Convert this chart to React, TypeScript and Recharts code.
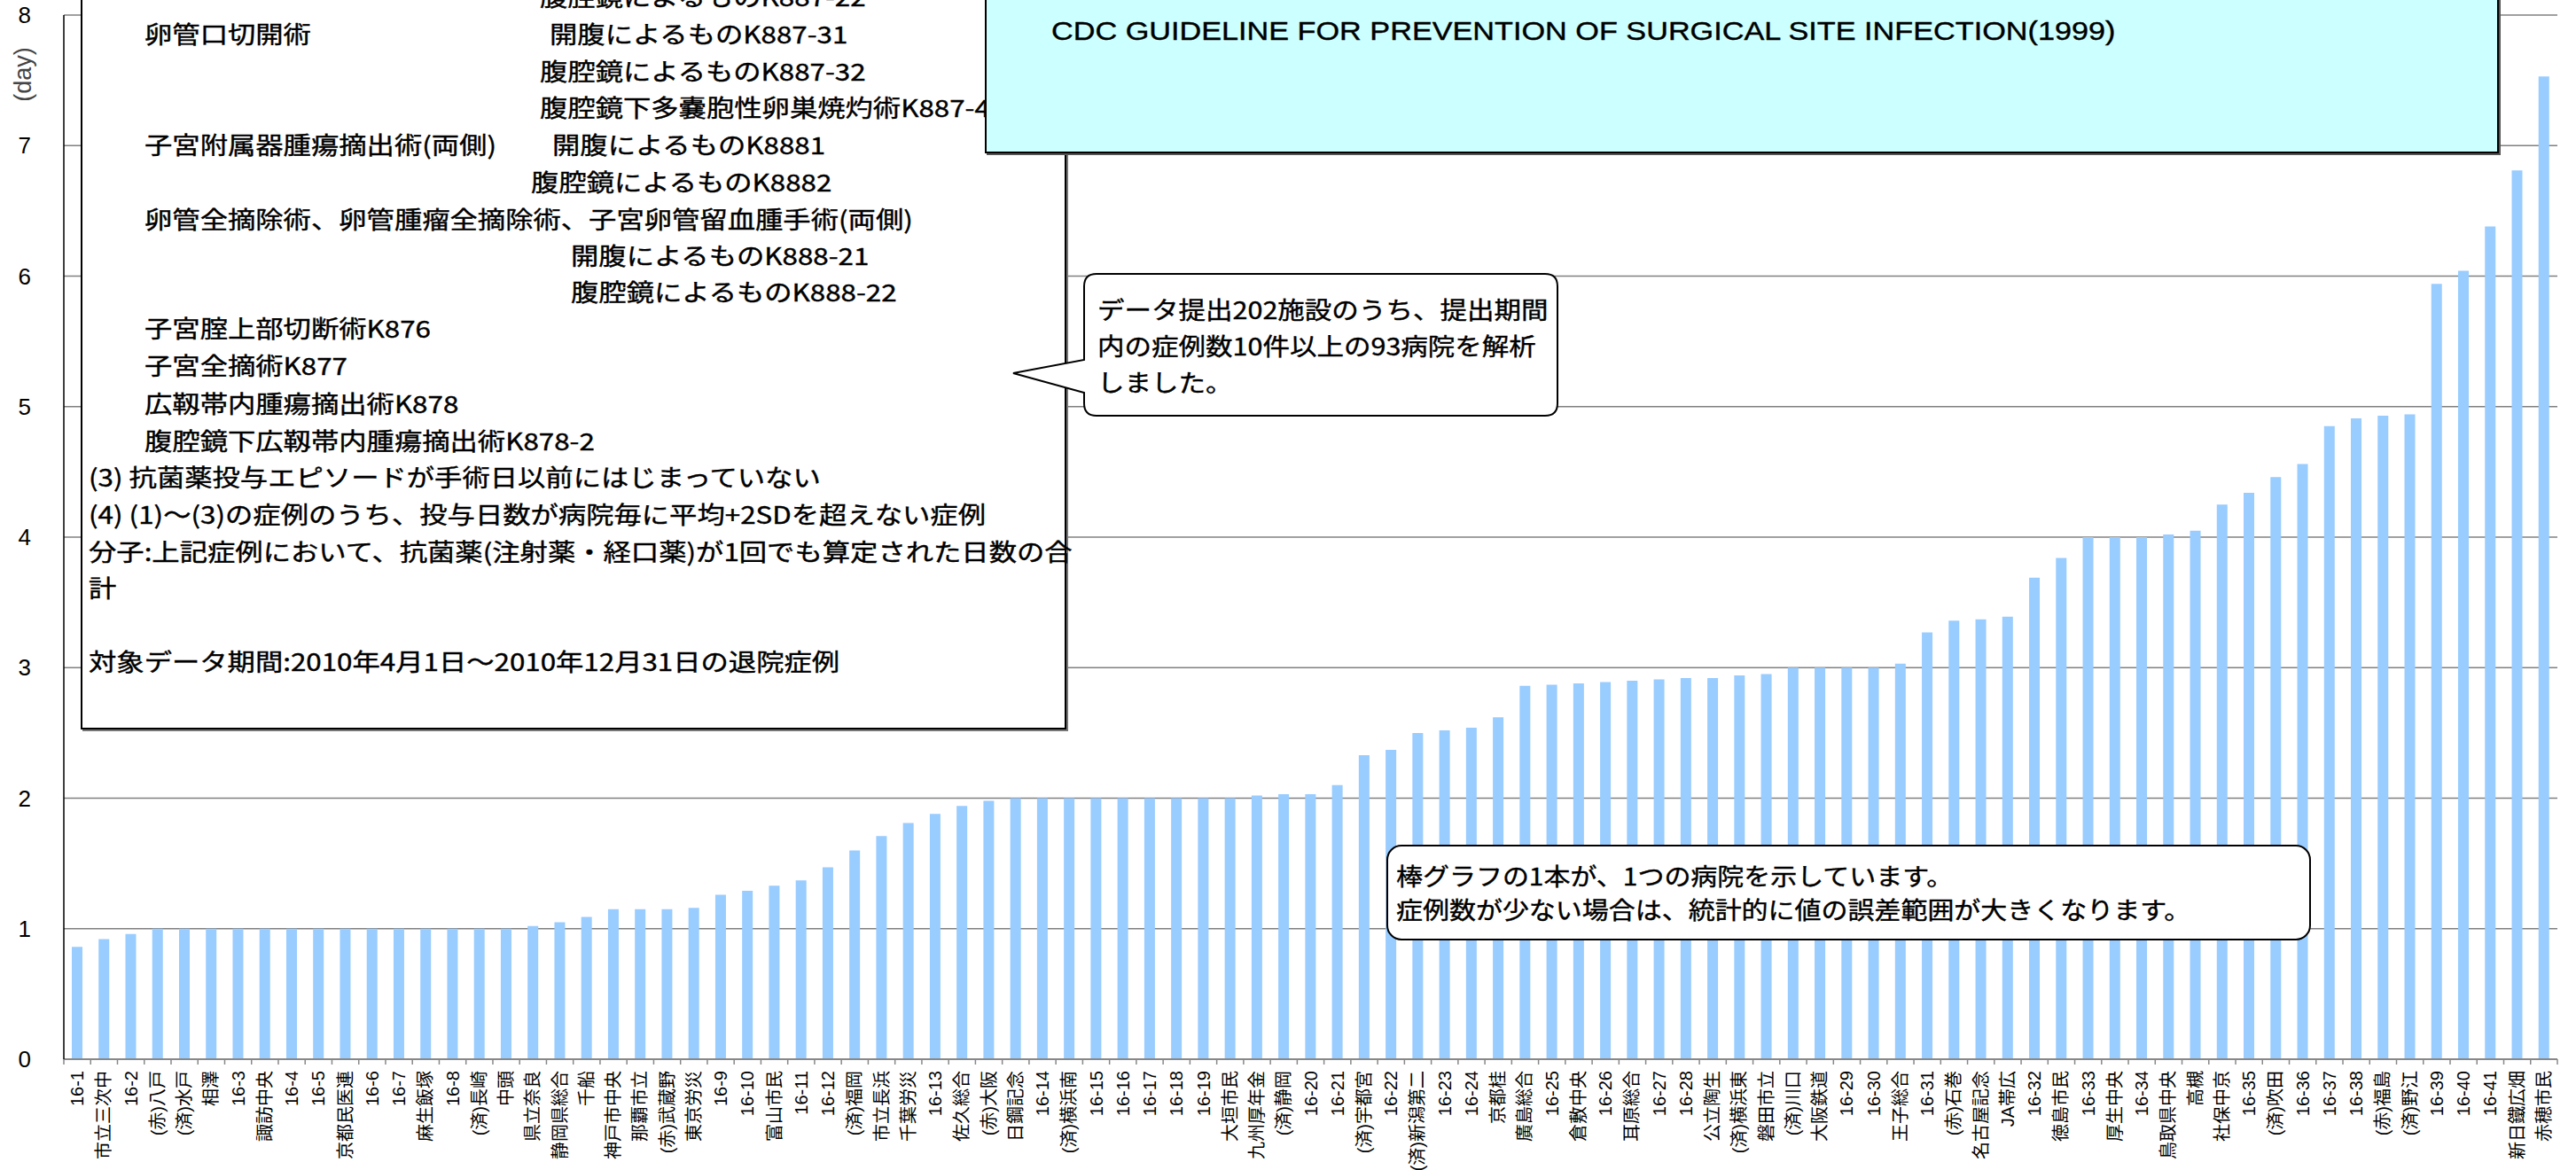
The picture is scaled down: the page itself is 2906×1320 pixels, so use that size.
import { BarChart, Bar, XAxis, YAxis, CartesianGrid } from 'recharts';

// hospitals, sorted by value (left to right)
const hospitals = [
  '16-1', '市立三次中', '16-2', '(赤)八戸', '(済)水戸', '相澤', '16-3', '諏訪中央', '16-4', '16-5',
  '京都民医連', '16-6', '16-7', '麻生飯塚', '16-8', '(済)長崎', '中頭', '県立奈良', '静岡県総合', '千船',
  '神戸市中央', '那覇市立', '(赤)武蔵野', '東京労災', '16-9', '16-10', '富山市民', '16-11', '16-12', '(済)福岡',
  '市立長浜', '千葉労災', '16-13', '佐久総合', '(赤)大阪', '日鋼記念', '16-14', '(済)横浜南', '16-15', '16-16',
  '16-17', '16-18', '16-19', '大垣市民', '九州厚年金', '(済)静岡', '16-20', '16-21', '(済)宇都宮', '16-22',
  '(済)新潟第二', '16-23', '16-24', '京都桂', '廣島総合', '16-25', '倉敷中央', '16-26', '耳原総合', '16-27',
  '16-28', '公立陶生', '(済)横浜東', '磐田市立', '(済)川口', '大阪鉄道', '16-29', '16-30', '王子総合', '16-31',
  '(赤)石巻', '名古屋記念', 'JA帯広', '16-32', '徳島市民', '16-33', '厚生中央', '16-34', '鳥取県中央', '高槻',
  '社保中京', '16-35', '(済)吹田', '16-36', '16-37', '16-38', '(赤)福島', '(済)野江', '16-39', '16-40',
  '16-41', '新日鐵広畑', '赤穂市民',
];

const days = [
  0.86, 0.92, 0.96, 1.0, 1.0, 1.0, 1.0, 1.0, 1.0, 1.0,
  1.0, 1.0, 1.0, 1.0, 1.0, 1.0, 1.0, 1.02, 1.05, 1.09,
  1.15, 1.15, 1.15, 1.16, 1.26, 1.29, 1.33, 1.37, 1.47, 1.6,
  1.71, 1.81, 1.88, 1.94, 1.98, 2.0, 2.0, 2.0, 2.0, 2.0,
  2.0, 2.0, 2.0, 2.0, 2.02, 2.03, 2.03, 2.1, 2.33, 2.37,
  2.5, 2.52, 2.54, 2.62, 2.86, 2.87, 2.88, 2.89, 2.9, 2.91,
  2.92, 2.92, 2.94, 2.95, 3.0, 3.0, 3.0, 3.0, 3.03, 3.27,
  3.36, 3.37, 3.39, 3.69, 3.84, 4.0, 4.0, 4.0, 4.02, 4.05,
  4.25, 4.34, 4.46, 4.56, 4.85, 4.91, 4.93, 4.94, 5.94, 6.04,
  6.38, 6.81, 7.53,
];

const yTicks = [0, 1, 2, 3, 4, 5, 6, 7, 8];

const data = hospitals.map((name, i) => ({ name, days: days[i] }));

const W = 2906;
const H = 1320;
const PLOT_LEFT = 72;
const PLOT_RIGHT = 2885;
const PLOT_TOP = 17;
const PLOT_BOTTOM = 1195;
const BAND = (PLOT_RIGHT - PLOT_LEFT) / hospitals.length;

const JP = '"Noto Sans CJK JP", sans-serif';

// notes in the white box (left)
const boxLines = [
  { text: '腹腔鏡によるものK887-22', x: 609, y: -4 },
  { text: '卵管口切開術', x: 163, y: 38 },
  { text: '開腹によるものK887-31', x: 620, y: 38 },
  { text: '腹腔鏡によるものK887-32', x: 609, y: 80 },
  { text: '腹腔鏡下多嚢胞性卵巣焼灼術K887-4', x: 609, y: 121 },
  { text: '子宮附属器腫瘍摘出術(両側)', x: 163, y: 163 },
  { text: '開腹によるものK8881', x: 623, y: 163 },
  { text: '腹腔鏡によるものK8882', x: 599, y: 205 },
  { text: '卵管全摘除術、卵管腫瘤全摘除術、子宮卵管留血腫手術(両側)', x: 163, y: 247 },
  { text: '開腹によるものK888-21', x: 644, y: 288 },
  { text: '腹腔鏡によるものK888-22', x: 644, y: 329 },
  { text: '子宮腟上部切断術K876', x: 163, y: 370 },
  { text: '子宮全摘術K877', x: 163, y: 412 },
  { text: '広靱帯内腫瘍摘出術K878', x: 163, y: 455 },
  { text: '腹腔鏡下広靱帯内腫瘍摘出術K878-2', x: 163, y: 497 },
  { text: '(3) 抗菌薬投与エピソードが手術日以前にはじまっていない', x: 100, y: 538 },
  { text: '(4) (1)～(3)の症例のうち、投与日数が病院毎に平均+2SDを超えない症例', x: 100, y: 580 },
  { text: '分子:上記症例において、抗菌薬(注射薬・経口薬)が1回でも算定された日数の合', x: 100, y: 622 },
  { text: '計', x: 100, y: 663 },
  { text: '対象データ期間:2010年4月1日～2010年12月31日の退院症例', x: 100, y: 746 },
];

const calloutLines = [
  { text: 'データ提出202施設のうち、提出期間', x: 1238, y: 349 },
  { text: '内の症例数10件以上の93病院を解析', x: 1238, y: 390 },
  { text: 'しました。', x: 1238, y: 431 },
];

const noteLines = [
  { text: '棒グラフの1本が、1つの病院を示しています。', x: 1575, y: 988 },
  { text: '症例数が少ない場合は、統計的に値の誤差範囲が大きくなります。', x: 1575, y: 1026 },
];

function Line({ text, x, y, size = 27, scale = 1.16, font = JP }: any) {
  return (
    <div
      style={{
        position: 'absolute',
        left: x,
        top: y - 20,
        height: 40,
        lineHeight: '40px',
        fontSize: size,
        fontFamily: font,
        color: '#000',
        whiteSpace: 'nowrap',
        WebkitTextStroke: '0.4px #000',
        transform: `scaleX(${scale})`,
        transformOrigin: 'left center',
      }}
    >
      {text}
    </div>
  );
}

function XTick(props: any) {
  const { x, y, payload } = props;
  const i = hospitals.indexOf(payload.value);
  const ay = PLOT_BOTTOM;
  return (
    <g>
      <line x1={x - BAND / 2} x2={x - BAND / 2} y1={ay} y2={ay + 6} stroke="#888" strokeWidth={1.5} />
      {i === hospitals.length - 1 && (
        <line x1={x + BAND / 2} x2={x + BAND / 2} y1={ay} y2={ay + 6} stroke="#888" strokeWidth={1.5} />
      )}
      <text
        x={x}
        y={y}
        transform={`rotate(-90, ${x}, ${y})`}
        textAnchor="end"
        dominantBaseline="central"
        fontSize={20}
        fontFamily={'"Liberation Sans", "Noto Sans CJK JP", sans-serif'}
        fill="#000"
      >
        {payload.value}
      </text>
    </g>
  );
}

export default function App() {
  return (
    <div
      style={{
        position: 'absolute',
        left: 0,
        top: 0,
        width: W,
        height: H,
        background: '#fff',
        overflow: 'hidden',
      }}
    >
      <BarChart
        width={W}
        height={H}
        data={data}
        margin={{ top: PLOT_TOP, right: W - PLOT_RIGHT, left: 0, bottom: 0 }}
        barCategoryGap={0}
      >
        <CartesianGrid vertical={false} stroke="#808080" strokeWidth={1.5} />
        <XAxis
          dataKey="name"
          interval={0}
          height={H - PLOT_BOTTOM}
          tick={<XTick />}
          tickLine={false}
          tickSize={6}
          tickMargin={7}
          axisLine={{ stroke: '#888', strokeWidth: 2 }}
        />
        <YAxis
          domain={[0, 8]}
          ticks={yTicks}
          width={PLOT_LEFT}
          tickLine={false}
          tickSize={0}
          tickMargin={37}
          axisLine={{ stroke: '#000', strokeWidth: 1.5 }}
          tick={{ fill: '#000', fontSize: 26, fontFamily: '"Liberation Sans", Arial, sans-serif' }}
        />
        <YAxis
          yAxisId="right"
          orientation="right"
          domain={[0, 8]}
          width={0}
          tick={false}
          tickLine={false}
          axisLine={{ stroke: '#999', strokeWidth: 1.5 }}
        />
        <Bar dataKey="days" fill="#99CCFF" barSize={12} isAnimationActive={false} />
      </BarChart>

      {/* (day) axis title */}
      <div
        style={{
          position: 'absolute',
          left: 26,
          top: 84,
          transform: 'translate(-50%, -50%) rotate(-90deg)',
          fontSize: 27,
          fontFamily: '"Liberation Sans", Arial, sans-serif',
          color: '#444',
          whiteSpace: 'nowrap',
        }}
      >
        (day)
      </div>

      {/* definition box */}
      <div
        style={{
          position: 'absolute',
          left: 91,
          top: -60,
          width: 1203 - 91,
          height: 823 + 60,
          boxSizing: 'border-box',
          background: '#fff',
          border: '2px solid #000',
          boxShadow: '2px 2px 0 #777',
        }}
      />
      {boxLines.map((l, i) => (
        <Line key={i} {...l} />
      ))}

      {/* reference box */}
      <div
        style={{
          position: 'absolute',
          left: 1111,
          top: -60,
          width: 2819 - 1111,
          height: 173 + 60,
          boxSizing: 'border-box',
          background: '#CCFFFF',
          border: '2px solid #000',
          boxShadow: '2px 2px 0 #555',
        }}
      />
      <Line
        text="CDC GUIDELINE FOR PREVENTION OF SURGICAL SITE INFECTION(1999)"
        x={1186}
        y={35}
        size={29}
        scale={1.18}
        font={'"Liberation Sans", Arial, sans-serif'}
      />

      {/* callout with pointer */}
      <svg width={W} height={H} style={{ position: 'absolute', left: 0, top: 0, pointerEvents: 'none' }}>
        <path
          d="M 1237 309 H 1743 Q 1757 309 1757 323 V 455 Q 1757 469 1743 469 H 1237 Q 1223 469 1223 455 V 443 L 1143 421 L 1223 406 V 323 Q 1223 309 1237 309 Z"
          fill="#fff"
          stroke="#000"
          strokeWidth={2}
        />
        <rect x={1565} y={954} width={2606 - 1565} height={1060 - 954} rx={16} ry={16} fill="#fff" stroke="#000" strokeWidth={2} />
      </svg>
      {calloutLines.map((l, i) => (
        <Line key={'c' + i} {...l} scale={1.13} />
      ))}
      {noteLines.map((l, i) => (
        <Line key={'n' + i} {...l} scale={1.11} />
      ))}
    </div>
  );
}
